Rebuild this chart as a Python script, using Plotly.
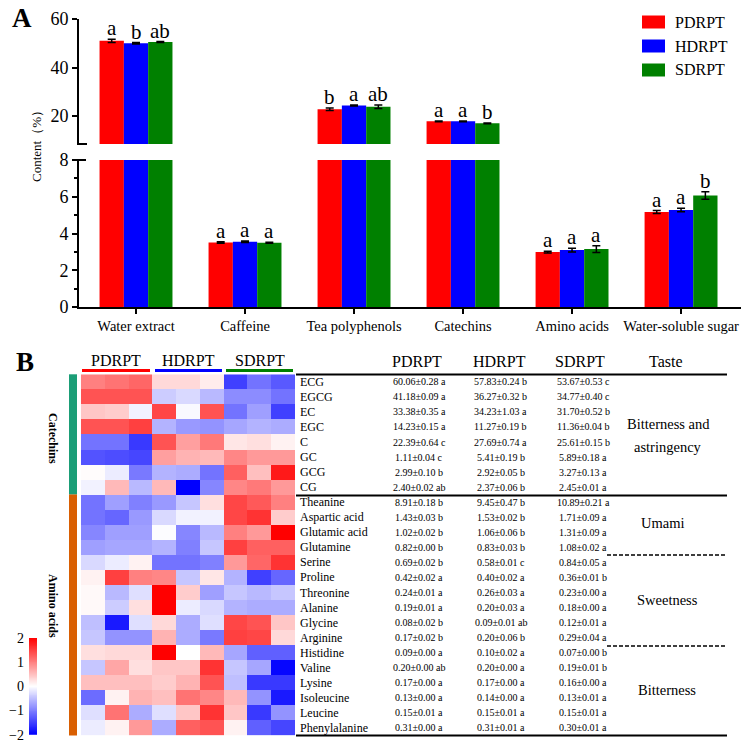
import plotly.graph_objects as go

W, H = 744, 745
def X(px): return px / W
def Y(py): return 1 - py / H

SERIF = "'Liberation Serif', 'Times New Roman', Times, 'DejaVu Serif', serif"

# ---------------- Panel A data ----------------
categories = ["Water extract", "Caffeine", "Tea polyphenols", "Catechins", "Amino acids", "Water-soluble sugar"]
groups = ["PDRPT", "HDRPT", "SDRPT"]
pdrpt_mean = [51.0, 3.51, 22.8, 17.8, 2.99, 5.17]
hdrpt_mean = [50.0, 3.55, 24.3, 17.8, 3.10, 5.28]
sdrpt_mean = [50.5, 3.50, 23.8, 17.0, 3.15, 6.07]
pdrpt_err = [0.7, 0.04, 0.5, 0.15, 0.05, 0.08]
hdrpt_err = [0.3, 0.04, 0.2, 0.15, 0.10, 0.10]
sdrpt_err = [0.2, 0.03, 0.7, 0.15, 0.18, 0.20]
pdrpt_sig = ["a", "a", "b", "a", "a", "a"]
hdrpt_sig = ["b", "a", "a", "a", "a", "a"]
sdrpt_sig = ["ab", "a", "ab", "b", "a", "b"]
lower_ticks = [0, 2, 4, 6, 8]
upper_ticks = [20, 40, 60]

# ---------------- Panel B data ----------------
heat_rows = ["ECG", "EGCG", "EC", "EGC", "C", "GC", "GCG", "CG",
             "Theanine", "Aspartic acid", "Glutamic acid", "Glutamine", "Serine",
             "Proline", "Threonine", "Alanine", "Glycine", "Arginine",
             "Histidine", "Valine", "Lysine", "Isoleucine", "Leucine", "Phenylalanine"]
heat_values = [
    [1.00, 1.10, 1.20, 0.30, 0.30, 0.15, -1.50, -1.10, -1.30],
    [1.35, 1.35, 1.35, -0.40, -0.30, -0.55, -0.90, -0.90, -1.10],
    [0.45, 0.40, -0.10, 1.45, -0.05, 1.35, -1.10, -0.75, -1.50],
    [1.35, 1.35, 1.50, -0.60, -0.80, -0.85, -0.70, -0.60, -0.65],
    [-1.10, -1.10, -1.55, 1.35, 0.75, 1.05, 0.20, 0.25, 0.10],
    [-1.35, -1.40, -1.45, 0.75, 0.60, 0.55, 0.95, 0.80, 0.80],
    [0.02, -0.15, -1.05, -0.60, -0.65, -1.10, 1.25, 0.50, 1.80],
    [-0.10, 0.55, -0.55, 0.55, -2.00, -0.95, 0.95, 1.05, 0.80],
    [-1.10, -0.75, -1.00, -0.80, -0.45, 0.25, 1.45, 1.30, 1.00],
    [-1.10, -1.20, -0.80, -0.30, -0.10, -0.10, 1.45, 1.60, 0.40],
    [-0.95, -0.75, -0.75, -0.02, -0.95, -0.55, 1.00, 0.80, 2.00],
    [-0.75, -0.70, -0.70, -0.60, -1.00, -0.45, 1.50, 1.25, 1.25],
    [-0.30, -0.15, 0.10, -1.10, -1.10, -1.00, 0.80, 1.20, 1.60],
    [0.10, 1.50, 1.00, 0.95, -0.45, 0.20, -0.60, -1.50, -1.20],
    [0.05, -0.55, -0.25, 2.00, 0.40, -0.75, -0.45, -0.55, -0.45],
    [0.05, -0.40, 0.25, 2.00, -0.15, -0.30, -0.60, -0.65, -0.65],
    [-0.50, -1.80, -0.25, 0.30, -0.65, -0.25, 1.45, 1.35, 0.45],
    [-0.45, -0.85, -0.85, 0.60, -0.65, -1.05, 1.50, 1.45, 0.30],
    [0.25, 0.30, 0.30, 2.00, 0.00, 0.55, -0.70, -1.25, -1.25],
    [-0.45, 0.70, 0.25, 0.45, 0.45, 1.60, -0.45, -0.70, -1.95],
    [0.50, 0.50, 0.50, 0.40, 0.60, 1.35, -0.50, -1.55, -1.55],
    [-1.15, 0.10, 0.60, 0.50, 1.10, 0.95, 0.55, -0.85, -1.80],
    [-0.25, 1.10, -0.65, -0.25, 0.45, 1.60, 0.45, -1.55, -0.85],
    [-0.15, 0.10, 0.80, -0.65, 1.25, 1.35, 0.10, -1.25, -1.45],
]
colorbar_ticks = [2, 1, 0, -1, -2]

pdrpt_text = ["60.06±0.28 a", "41.18±0.09 a", "33.38±0.35 a", "14.23±0.15 a", "22.39±0.64 c",
              "1.11±0.04 c", "2.99±0.10 b", "2.40±0.02 ab", "8.91±0.18 b", "1.43±0.03 b",
              "1.02±0.02 b", "0.82±0.00 b", "0.69±0.02 b", "0.42±0.02 a", "0.24±0.01 a",
              "0.19±0.01 a", "0.08±0.02 b", "0.17±0.02 b", "0.09±0.00 a", "0.20±0.00 ab",
              "0.17±0.00 a", "0.13±0.00 a", "0.15±0.01 a", "0.31±0.00 a"]
hdrpt_text = ["57.83±0.24 b", "36.27±0.32 b", "34.23±1.03 a", "11.27±0.19 b", "27.69±0.74 a",
              "5.41±0.19 b", "2.92±0.05 b", "2.37±0.06 b", "9.45±0.47 b", "1.53±0.02 b",
              "1.06±0.06 b", "0.83±0.03 b", "0.58±0.01 c", "0.40±0.02 a", "0.26±0.03 a",
              "0.20±0.03 a", "0.09±0.01 ab", "0.20±0.06 b", "0.10±0.02 a", "0.20±0.00 a",
              "0.17±0.00 a", "0.14±0.00 a", "0.15±0.01 a", "0.31±0.01 a"]
sdrpt_text = ["53.67±0.53 c", "34.77±0.40 c", "31.70±0.52 b", "11.36±0.04 b", "25.61±0.15 b",
              "5.89±0.18 a", "3.27±0.13 a", "2.45±0.01 a", "10.89±0.21 a", "1.71±0.09 a",
              "1.31±0.09 a", "1.08±0.02 a", "0.84±0.05 a", "0.36±0.01 b", "0.23±0.00 a",
              "0.18±0.00 a", "0.12±0.01 a", "0.29±0.04 a", "0.07±0.00 b", "0.19±0.01 b",
              "0.16±0.00 a", "0.13±0.01 a", "0.15±0.01 a", "0.30±0.01 a"]
table_headers = ["PDRPT", "HDRPT", "SDRPT", "Taste"]
side_groups = ["Catechins", "Amino acids"]

# ---------------- Figure ----------------
colors = {"PDRPT": "#FF0000", "HDRPT": "#0000FF", "SDRPT": "#008000"}
means = [pdrpt_mean, hdrpt_mean, sdrpt_mean]
errs = [pdrpt_err, hdrpt_err, sdrpt_err]
sigs = [pdrpt_sig, hdrpt_sig, sdrpt_sig]
xs = list(range(len(categories)))
BARGAP = 0.331
barw = (1 - BARGAP) / 3
CSCALE = [[0, "rgb(0,0,255)"], [0.5, "rgb(255,255,255)"], [1, "rgb(255,0,0)"]]

fig = go.Figure()
for yax in ["y", "y2"]:
    for g, m, e in zip(groups, means, errs):
        fig.add_trace(go.Bar(
            x=xs, y=m, name=g, xaxis="x", yaxis=yax, showlegend=False,
            marker=dict(color=colors[g], line=dict(width=0)),
            error_y=dict(type="data", array=e, color="black", thickness=1.5, width=4),
        ))

fig.add_trace(go.Heatmap(
    z=heat_values, x=list(range(9)), y=list(range(len(heat_rows))),
    xaxis="x3", yaxis="y3", zmin=-2, zmax=2, colorscale=CSCALE, showscale=False,
))

# colour key drawn as its own small heatmap (gradient from -2 to 2)
n_steps = 200
cb_levels = [colorbar_ticks[-1] + (colorbar_ticks[0] - colorbar_ticks[-1]) * k / (n_steps - 1) for k in range(n_steps)]
fig.add_trace(go.Heatmap(
    z=[[v] for v in cb_levels], y=cb_levels, x=[0],
    xaxis="x4", yaxis="y4", zmin=-2, zmax=2, colorscale=CSCALE, showscale=False,
))

axis_common = dict(showline=True, linecolor="black", linewidth=2, ticks="outside",
                   ticklen=5, tickwidth=2, tickcolor="black", showgrid=False, zeroline=False)

fig.update_layout(
    width=W, height=H, margin=dict(l=0, r=0, t=0, b=0, pad=0, autoexpand=False),
    paper_bgcolor="white", plot_bgcolor="rgba(0,0,0,0)",
    barmode="group", bargap=BARGAP, bargroupgap=0,
    font=dict(family=SERIF, color="black"),
    xaxis=dict(domain=[X(79), X(741)], range=[-0.523, 5.55], anchor="y",
               tickvals=xs, ticktext=categories, tickfont=dict(size=14.5, family=SERIF),
               **axis_common),
    yaxis=dict(domain=[Y(307), Y(160)], range=[0, 8], anchor="x",
               tickvals=lower_ticks, tickfont=dict(size=18, family=SERIF),
               minor=dict(tickvals=[1, 3, 5, 7], ticks="outside", ticklen=3, tickwidth=1.5,
                          tickcolor="black"),
               **axis_common),
    yaxis2=dict(domain=[Y(144), Y(19)], range=[8.45, 60], anchor="x",
                tickvals=upper_ticks, tickfont=dict(size=18, family=SERIF),
                **axis_common),
    xaxis3=dict(domain=[X(81), X(295)], range=[-0.5, 8.5], anchor="y3", visible=False),
    yaxis3=dict(domain=[Y(735.5), Y(374.3)], range=[len(heat_rows) - 0.5, -0.5],
                anchor="x3", visible=False),
    xaxis4=dict(domain=[X(29), X(37)], range=[-0.5, 0.5], anchor="y4", visible=False),
    yaxis4=dict(domain=[Y(735), Y(638)], range=[-2, 2], anchor="x4", visible=False),
)

annots = []
def txt(x, y, s, size, bold=False, xanchor="center", yanchor="middle", angle=0, **kw):
    annots.append(dict(x=X(x), y=Y(y), xref="paper", yref="paper", text=("<b>%s</b>" % s) if bold else s,
                       showarrow=False, xanchor=xanchor, yanchor=yanchor, textangle=angle,
                       font=dict(family=SERIF, size=size, color="black"), **kw))

# significance letters
for j, (m, e, s) in enumerate(zip(means, errs, sigs)):
    for i in xs:
        annots.append(dict(x=i + (j - 1) * barw, y=m[i] + e[i], xref="x",
                           yref="y2" if m[i] > 8 else "y", text=s[i], showarrow=False,
                           xanchor="center", yanchor="bottom", yshift=-3,
                           font=dict(family=SERIF, size=21, color="black")))

# panel A labels
txt(22, 18, "A", 27, bold=True)
txt(36, 143, "Content（%）", 13, angle=-90)
leg_y = [22, 46, 70]
shapes = []
for g, ly in zip(groups, leg_y):
    shapes.append(dict(type="rect", xref="paper", yref="paper", x0=X(642), x1=X(665),
                       y0=Y(ly + 6.5), y1=Y(ly - 6.5), fillcolor=colors[g], line=dict(width=0)))
    txt(673, ly, g, 16, xanchor="left")

# axis break marks
shapes.append(dict(type="line", xref="paper", yref="paper", x0=X(77), x1=X(87), y0=Y(144), y1=Y(144),
                   line=dict(color="black", width=2)))
shapes.append(dict(type="line", xref="paper", yref="paper", x0=X(75), x1=X(86), y0=Y(160), y1=Y(160),
                   line=dict(color="black", width=2)))

# panel B
txt(25, 362, "B", 27, bold=True)
grp_x = [(82, 150), (155, 222), (226, 293)]
for g, (a, b) in zip(groups, grp_x):
    shapes.append(dict(type="line", xref="paper", yref="paper", x0=X(a), x1=X(b), y0=Y(370.5), y1=Y(370.5),
                       line=dict(color=colors[g], width=3)))
    txt((a + b) / 2, 360, g, 16)

# side group bars
shapes.append(dict(type="rect", xref="paper", yref="paper", x0=X(69), x1=X(77), y0=Y(494.6), y1=Y(374.3),
                   fillcolor="#1B9E77", line=dict(width=0)))
shapes.append(dict(type="rect", xref="paper", yref="paper", x0=X(69), x1=X(77), y0=Y(735.5), y1=Y(494.6),
                   fillcolor="#D95F02", line=dict(width=0)))
txt(53, 438, side_groups[0], 12, bold=True, angle=90)
txt(53, 606, side_groups[1], 12, bold=True, angle=90)

# colour key labels
for v in colorbar_ticks:
    annots.append(dict(x=0, y=v, xref="x4 domain", yref="y4", text=str(v).replace("-", "−"),
                       showarrow=False, xanchor="right", yanchor="middle", xshift=-3,
                       font=dict(family=SERIF, size=14, color="black")))

# table
for hx, h in zip([417, 500, 580, 666], table_headers):
    txt(hx, 362, h, 16)
for yy in [374.5, 495.5, 735.5]:
    shapes.append(dict(type="line", xref="paper", yref="paper", x0=X(296), x1=X(727), y0=Y(yy), y1=Y(yy),
                       line=dict(color="black", width=2)))
for yy in [555, 646]:
    shapes.append(dict(type="line", xref="paper", yref="paper", x0=X(607), x1=X(727), y0=Y(yy), y1=Y(yy),
                       line=dict(color="black", width=1.5, dash="4px,2px")))
row_h = (735.5 - 374.3) / len(heat_rows)
for i, name in enumerate(heat_rows):
    cy = 374.3 + row_h * (i + 0.5)
    txt(298, cy, name, 12, xanchor="left")
    txt(419, cy, pdrpt_text[i], 10)
    txt(501, cy, hdrpt_text[i], 10)
    txt(583, cy, sdrpt_text[i], 10)

txt(668, 424, "Bitterness and", 14.5)
txt(668, 447, "astringency", 14.5)
txt(663, 523, "Umami", 14.5)
txt(667, 600, "Sweetness", 14.5)
txt(667, 690, "Bitterness", 14.5)

fig.update_layout(annotations=annots, shapes=shapes)
fig.write_html("out.html", config={"displayModeBar": False},
               post_script="document.body.style.margin='0px';document.body.style.overflow='hidden';")
